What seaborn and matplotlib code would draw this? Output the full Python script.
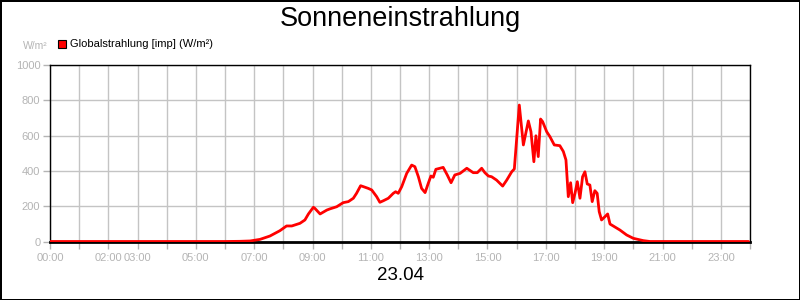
import matplotlib
matplotlib.use("Agg")
import matplotlib.pyplot as plt
import seaborn as sns
import pandas as pd
from matplotlib.patches import Rectangle

# ---- data ----
hours = [0.00, 6.00, 6.51, 6.86, 7.20, 7.54, 7.88, 8.11, 8.29, 8.57, 8.74, 8.86,
         9.03, 9.08, 9.26, 9.49, 9.60, 9.83, 10.05, 10.23, 10.40, 10.51, 10.65,
         10.74, 10.91, 11.03, 11.20, 11.31, 11.43, 11.60, 11.77, 11.85, 11.94,
         12.06, 12.23, 12.40, 12.51, 12.63, 12.74, 12.86, 12.97, 13.06, 13.14,
         13.23, 13.37, 13.48, 13.62, 13.75, 13.88, 14.06, 14.29, 14.51, 14.65,
         14.80, 14.91, 15.03, 15.14, 15.31, 15.52, 15.66, 15.83, 15.92, 16.09,
         16.23, 16.40, 16.49, 16.59, 16.66, 16.74, 16.82, 16.89, 17.03, 17.14,
         17.29, 17.48, 17.60, 17.69, 17.77, 17.85, 17.92, 18.00, 18.08, 18.17,
         18.26, 18.34, 18.42, 18.51, 18.59, 18.68, 18.76, 18.83, 18.91, 19.03,
         19.12, 19.20, 19.31, 19.54, 19.77, 20.00, 20.34, 20.57, 23.95]
globalstrahlung = [0, 0, 1, 3, 12, 31, 61, 88, 88, 103, 122, 156,
                   194, 188, 156, 178, 185, 197, 220, 226, 245, 273, 316,
                   311, 301, 292, 254, 222, 231, 245, 273, 282, 273,
                   311, 386, 433, 424, 367, 301, 277, 330, 371, 364,
                   409, 415, 420, 377, 333, 377, 386, 415, 390, 390,
                   415, 390, 371, 367, 348, 314, 348, 395, 411, 773,
                   547, 683, 622, 452, 599, 481, 694, 679, 622, 594,
                   547, 543, 510, 462, 254, 333, 220, 273, 339, 245,
                   367, 395, 326, 320, 226, 288, 273, 169, 122, 141,
                   156, 99, 88, 65, 37, 18, 5, 0, 0]
y_ticks = [0, 200, 400, 600, 800, 1000]
x_label_hours = [0, 2, 3, 5, 7, 9, 11, 13, 15, 17, 19, 21, 23]

title = "Sonneneinstrahlung"
series_name = "Globalstrahlung [imp] (W/m²)"
unit = "W/m²"
date_label = "23.04"

df = pd.DataFrame({"hour": hours, "value": globalstrahlung})

sns.set_theme(style="white")
plt.rcParams["font.family"] = ["Liberation Sans", "DejaVu Sans"]

fig = plt.figure(figsize=(8, 3), dpi=100, facecolor="white",
                 edgecolor="black", linewidth=2)
ax = fig.add_axes([50 / 800, 1 - 241.5 / 300, 700 / 800, 176.5 / 300])

tick_grey = "#b4b4b4"
grid_grey = "#c4c4c4"

sns.lineplot(data=df, x="hour", y="value", ax=ax, color="#ff0000",
             linewidth=2, zorder=3)

ax.set_xlim(0, 24)
ax.set_ylim(0, 1000)
ax.set_xticks(range(0, 25))
ax.set_xticklabels([f"{h:02d}:00" if h in x_label_hours else "" for h in range(0, 25)])
ax.set_yticks(y_ticks)
ax.set_yticklabels([str(v) for v in y_ticks])
ax.grid(True, color=grid_grey, linewidth=1)
ax.set_axisbelow(True)
ax.tick_params(axis="both", colors=tick_grey, labelcolor=tick_grey,
               labelsize=8, length=5, width=1, direction="out",
               bottom=True, left=True)
ax.tick_params(axis="x", pad=3)
ax.tick_params(axis="y", pad=2)
ax.set_xlabel("")
ax.set_ylabel("")
for side in ["top", "right", "left"]:
    ax.spines[side].set_color("black")
    ax.spines[side].set_linewidth(1)
ax.spines["bottom"].set_color("black")
ax.spines["bottom"].set_linewidth(2)

fig.text(0.5, 1 - 19 / 300, title, ha="center", va="center", fontsize=19.5,
         color="black")
fig.text(48 / 800, 1 - 46 / 300, unit, ha="right", va="center", fontsize=7.5,
         color=tick_grey)
fig.patches.append(Rectangle((58 / 800, 1 - 48 / 300), 8 / 800, 8 / 300,
                             transform=fig.transFigure, facecolor="#ff0000",
                             edgecolor="black", linewidth=0.8))
fig.text(70 / 800, 1 - 44 / 300, series_name, ha="left", va="center",
         fontsize=8, color="black")
fig.text(0.5, 1 - 276 / 300, date_label, ha="center", va="center",
         fontsize=13.5, color="black")

fig.savefig("out.png", dpi=100, facecolor="white", edgecolor="black")
